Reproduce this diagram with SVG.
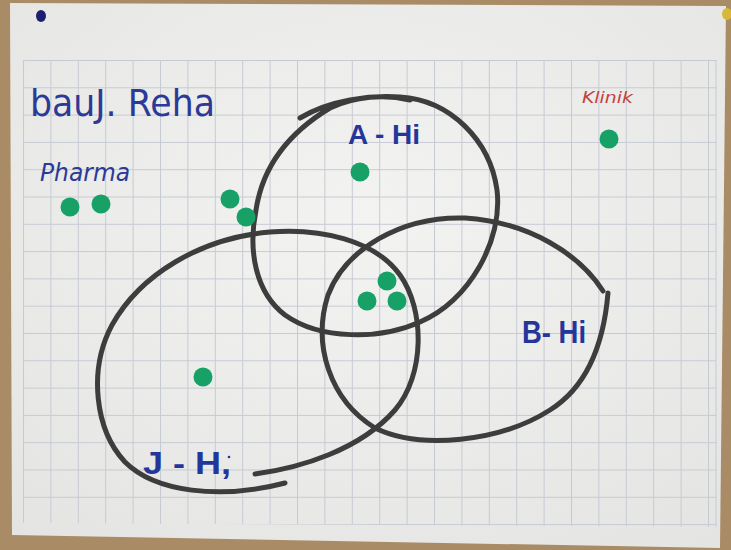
<svg xmlns="http://www.w3.org/2000/svg" width="731" height="550" viewBox="0 0 731 550">
<defs>
<pattern id="grid" patternUnits="userSpaceOnUse" x="23" y="60" width="27.4" height="27.3">
<path d="M0 0.5 H27.4 M0.5 0 V27.3" fill="none" stroke="#c6cad3" stroke-width="1"/>
</pattern>
<radialGradient id="paperShade" cx="0.5" cy="0.4" r="0.75">
<stop offset="0" stop-color="#f3f3f1"/>
<stop offset="1" stop-color="#e4e4e2"/>
</radialGradient>
</defs>
<style>
.ring{fill:none;stroke:#3d3d3d;stroke-width:5;stroke-linecap:round;stroke-linejoin:round}
.dot{fill:#17a167}
.hand{font-family:"DejaVu Sans","Liberation Sans",sans-serif;fill:#2b3a96}
.lbl{font-family:"Liberation Sans",sans-serif;font-weight:bold;fill:#24369a}
</style>
<rect x="0" y="0" width="731" height="550" fill="#a98b66"/>
<polygon points="10,3 726,6 720,548 12,535" fill="url(#paperShade)"/>
<polygon points="23,60 716,60 716,527 23,523" fill="url(#grid)"/>
<line x1="716" y1="60" x2="716" y2="527" stroke="#c6cad3" stroke-width="1"/>
<ellipse cx="41" cy="16" rx="5" ry="6" fill="#1d1f6e"/>
<ellipse cx="727" cy="14" rx="5" ry="6" fill="#d8b83a"/>
<g id="title">
<text class="hand" x="30" y="116" font-size="38" textLength="185" lengthAdjust="spacingAndGlyphs">bauJ. Reha</text>
</g>
<g id="pharma">
<text class="hand" x="40" y="181" font-size="24" font-style="italic" textLength="90" lengthAdjust="spacingAndGlyphs">Pharma</text>
</g>
<g id="klinik">
<text x="582" y="103" font-family="DejaVu Sans, sans-serif" font-size="15" font-style="italic" fill="#c2413f" textLength="51" lengthAdjust="spacingAndGlyphs">Klinik</text>
</g>
<g id="A-Hi">
<path class="ring" d="M300,118 C330,100 370,95 400,97 C450,100 490,140 497,190 C503,240 470,300 420,322 C380,340 320,340 285,315 C255,292 248,250 256,210 C262,170 285,135 330,108 C355,96 385,94 410,100"/>
<text class="lbl" x="348" y="144" font-size="27" textLength="72" lengthAdjust="spacingAndGlyphs">A - Hi</text>
</g>
<g id="B-Hi">
<path class="ring" d="M603,291 C580,255 530,222 465,218 C400,216 345,250 328,295 C312,345 330,400 375,428 C420,450 500,442 550,410 C590,385 604,340 608,293"/>
<text class="lbl" x="522" y="343" font-size="32" textLength="64" lengthAdjust="spacingAndGlyphs">B- Hi</text>
</g>
<g id="J-Hi">
<path class="ring" d="M255,474 C300,468 360,450 395,410 C425,375 425,310 400,275 C375,240 320,228 270,232 C200,238 140,275 112,325 C88,370 95,430 125,462 C155,492 220,500 285,483"/>
<text class="lbl" x="143" y="474" font-size="32" font-weight="normal" textLength="88" lengthAdjust="spacingAndGlyphs">J - H,</text>
<circle cx="229" cy="457" r="1.3" fill="#24369a"/>
</g>
<g id="dots">
<circle class="dot" cx="70" cy="207" r="9.5"/>
<circle class="dot" cx="101" cy="204" r="9.5"/>
<circle class="dot" cx="230" cy="199" r="9.5"/>
<circle class="dot" cx="246" cy="217" r="9.5"/>
<circle class="dot" cx="360" cy="172" r="9.5"/>
<circle class="dot" cx="609" cy="139" r="9.5"/>
<circle class="dot" cx="387" cy="281" r="9.5"/>
<circle class="dot" cx="367" cy="301" r="9.5"/>
<circle class="dot" cx="397" cy="301" r="9.5"/>
<circle class="dot" cx="203" cy="377" r="9.5"/>
</g>
</svg>
